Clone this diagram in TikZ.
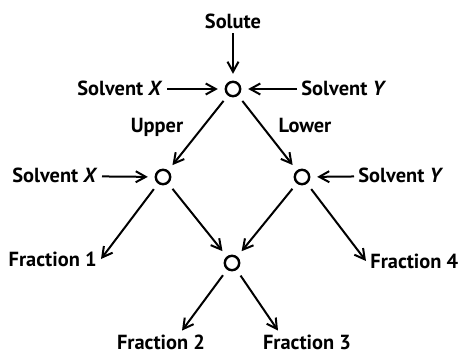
\documentclass[tikz,border=0pt]{standalone}
\usepackage{fontspec}
\setmainfont{PT Sans}
\usepackage{tikz}
\usetikzlibrary{arrows.meta,calc}

\begin{document}
\begin{tikzpicture}[x=0.5pt, y=-0.5pt,
    every node/.style={font=\bfseries\fontsize{10.2}{12}\selectfont},
    lbl/.style={inner sep=2pt, text height=7pt, text depth=0pt},
    stage/.style={circle, draw, line width=1.2pt, minimum size=7.2pt, inner sep=0pt, outer sep=4pt},
    flow/.style={-{Straight Barb[length=5pt, width=5.5pt]}, line width=1pt}]
    \useasboundingbox[fill=white] (0,0) rectangle (460,352);

    % Extraction stages
    \node[stage] (s1) at (233,89) {};
    \node[stage] (s2) at (163,177) {};
    \node[stage] (s3) at (302,177) {};
    \node[stage] (s4) at (232,263) {};

    % Feeds
    \node[lbl] (solute) at (233,22) {Solute};
    \node[lbl, anchor=east] (sx1) at (167,89) {Solvent \textit{X}};
    \node[lbl, anchor=west] (sy1) at (297,89) {Solvent \textit{Y}};
    \node[lbl, anchor=east] (sx2) at (102,176) {Solvent \textit{X}};
    \node[lbl, anchor=west] (sy2) at (354,176) {Solvent \textit{Y}};

    % Phase labels
    \node[lbl] (upper) at (157,126) {Upper};
    \node[lbl] (lower) at (305,126) {Lower};

    % Products
    \node[lbl, anchor=east] (f1) at (101,259) {Fraction 1};
    \node[lbl, anchor=west] (f4) at (366,261) {Fraction 4};
    \node[lbl] (f2) at (161,342) {Fraction 2};
    \node[lbl] (f3) at (307,342) {Fraction 3};

    % Arrows
    \draw[flow] (solute) -- (s1);
    \draw[flow] (sx1) -- (s1);
    \draw[flow] (sy1) -- (s1);
    \draw[flow] (sx2) -- (s2);
    \draw[flow] (sy2) -- (s3);
    \draw[flow] (s1) -- (s2);
    \draw[flow] (s1) -- (s3);
    \draw[flow] (s2) -- (f1.east);
    \draw[flow] (s2) -- (s4);
    \draw[flow] (s3) -- (s4);
    \draw[flow] (s3) -- (f4.west);
    \draw[flow] (s4) -- ($(f2.north)+(21,0)$);
    \draw[flow] (s4) -- ($(f3.north)+(-29,0)$);
\end{tikzpicture}
\end{document}
